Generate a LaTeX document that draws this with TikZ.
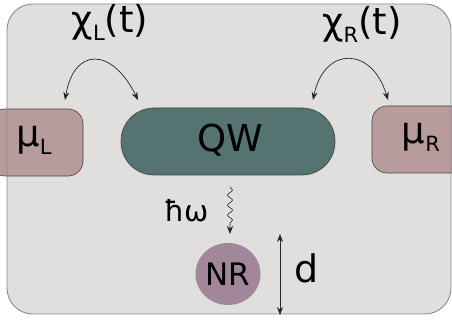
\documentclass[tikz,border=0pt]{standalone}
\usepackage{fontspec}
\setmainfont{DejaVu Sans}
\usetikzlibrary{arrows.meta,shapes.geometric,decorations.pathmorphing}
\definecolor{bgfill}{HTML}{E0DFDD}
\definecolor{bgline}{HTML}{8C8C8C}
\definecolor{resfill}{HTML}{B89C9C}
\definecolor{qwfill}{HTML}{557371}
\definecolor{nrfill}{HTML}{A28699}
\tikzset{
  x=1pt,y=-1pt,
  resbox/.style={draw=black!75,line width=0.6pt,fill=resfill,rounded corners=15pt,inner sep=0pt},
  qwbox/.style={draw=black!75,line width=0.6pt,fill=qwfill,rounded corners=33pt,inner sep=0pt,minimum width=214pt,minimum height=67pt},
  nrnode/.style={ellipse,fill=nrfill,inner sep=0pt,minimum width=65pt,minimum height=62pt},
  tip/.style={-{Stealth[length=8pt,width=6pt]}},
  dtip/.style={{Stealth[length=8pt,width=6pt]}-{Stealth[length=8pt,width=6pt]}},
  big/.style={font=\fontsize{37}{40}\selectfont},
}
\newcommand{\subtxt}[1]{\raisebox{-8pt}{\fontsize{21}{24}\selectfont #1}}
\begin{document}
\begin{tikzpicture}
\useasboundingbox (0,0) rectangle (452,320);
\path[fill=white] (0,0) rectangle (452,320);
\path[fill=bgfill] (7,4) [rounded corners=26pt] -- (7,314) -- (451,314) -- (451,4) -- cycle;
\begin{scope}
\clip (0,0) rectangle (452,320);
\node[resbox,minimum width=93pt,minimum height=67pt] (muL) at (36.5,142.5) {};
\node[resbox,minimum width=98pt,minimum height=67pt] (muR) at (421,139.5) {};
\end{scope}
\draw[bgline,line width=0.9pt] (7,4) [rounded corners=26pt] -- (7,314) -- (451,314) -- (451,4) -- cycle;
\node[big,inner sep=0pt,anchor=base] at (34,147) (muLt) {μ\subtxt{L}};
\node[big,inner sep=0pt,anchor=base] at (421,144) (muRt) {μ\subtxt{R}};
\node[qwbox] (qw) at (228,141.5) {};
\node[font=\fontsize{37}{40}\selectfont] (qwt) at (230,140) {QW};
\node[nrnode] (nr) at (228,274) {};
\node[font=\fontsize{31}{36}\selectfont] (nrt) at (228,274) {NR};
\node[big,inner sep=0pt,anchor=base] (chiL) at (110,33) {χ\subtxt{L}(t)};
\node[big,inner sep=0pt,anchor=base] (chiR) at (362,35) {χ\subtxt{R}(t)};
\node[font=\fontsize{29}{34}\selectfont,inner sep=0pt,anchor=base] (hw) at (187,222) {ħω};
\node[font=\fontsize{38}{44}\selectfont] (d) at (307,268) {d};
\coordinate (aL1) at (65,100);
\coordinate (aL2) at (138,100);
\coordinate (aR1) at (313,100);
\coordinate (aR2) at (388,100);
\coordinate (wtop) at (230,187);
\coordinate (wbot) at (230,234);
\coordinate (dtop) at (280,234);
\coordinate (dbot) at (280,315);
\draw[line width=0.7pt,black!85,{Stealth[length=8pt,width=6pt]}-{Stealth[length=8pt,width=6pt]}] (aL1) .. controls (74,47) and (112,47) .. (aL2);
\draw[line width=0.7pt,black!85,{Stealth[length=8pt,width=6pt]}-{Stealth[length=8pt,width=6pt]}] (aR1) .. controls (324,46) and (372,46) .. (aR2);
\draw[line width=0.6pt,black!85,tip,decorate,decoration={snake,amplitude=2.5pt,segment length=10pt,post length=8pt}] (wtop) -- (wbot);
\draw[line width=0.7pt,black!85,dtip] (dtop) -- (dbot);
\end{tikzpicture}
\end{document}
